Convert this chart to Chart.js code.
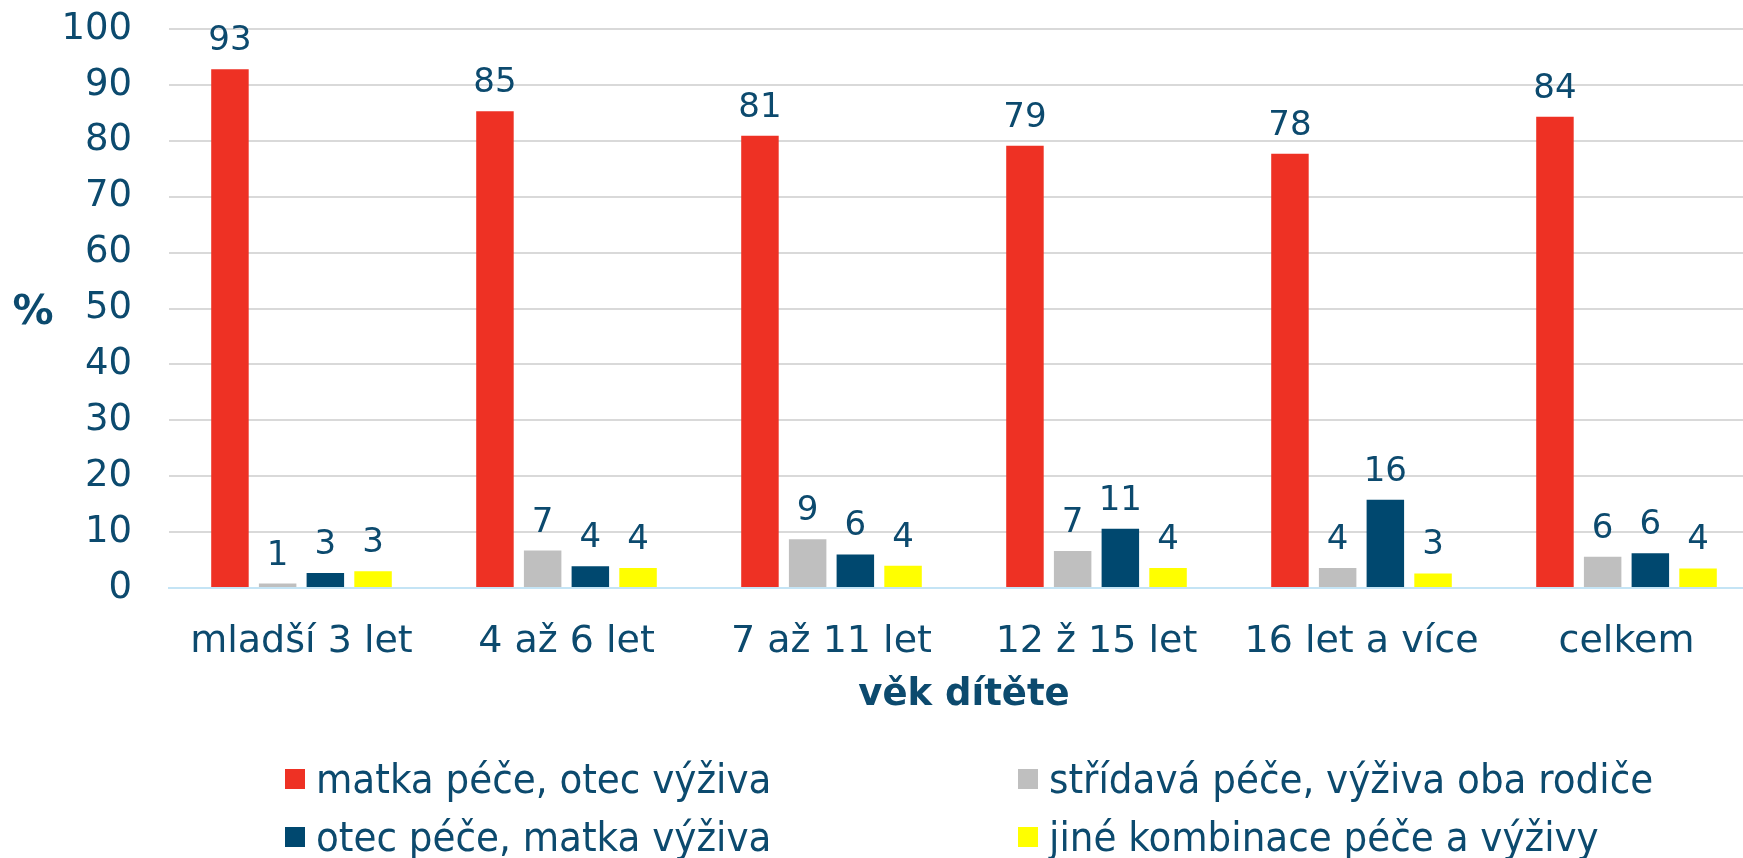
<!DOCTYPE html>
<html lang="cs">
<head>
<meta charset="utf-8">
<title>věk dítěte</title>
<script src="https://cdn.jsdelivr.net/npm/chart.js@4/dist/chart.umd.min.js"></script>
<style>
    body { margin: 0; background: #fff; overflow: hidden; }
    #wrap { position: relative; width: 1759px; height: 858px; }
    #legend {
        position: absolute; left: 285px; top: 759px;
        display: grid; grid-template-columns: 733px auto; row-gap: 18px;
        font-family: "DejaVu Sans Condensed", "DejaVu Sans", sans-serif;
        font-stretch: condensed; font-size: 41.5px; color: #0c4a6e;
    }
    #legend .item { display: flex; align-items: center; height: 40px; line-height: 1; white-space: nowrap; }
    #legend .box { width: 20px; height: 20px; margin-right: 11px; flex: none; }
</style>
</head>
<body>
<div id="wrap">
    <canvas id="chart" width="1759" height="858"></canvas>
    <div id="legend"></div>
</div>
<script>
const categories = ['mladší 3 let', '4 až 6 let', '7 až 11 let', '12 ž 15 let', '16 let a více', 'celkem'];
const seriesNames = ['matka péče, otec výživa', 'střídavá péče, výživa oba rodiče', 'otec péče, matka výživa', 'jiné kombinace péče a výživy'];
const matkaPece = [92.8, 85.3, 80.9, 79.1, 77.7, 84.3];
const stridavaPece = [0.8, 6.7, 8.7, 6.6, 3.6, 5.6];
const otecPece = [2.7, 3.9, 6.0, 10.6, 15.8, 6.2];
const jineKombinace = [3.0, 3.6, 4.0, 3.6, 2.6, 3.5];
const yTicks = [0, 10, 20, 30, 40, 50, 60, 70, 80, 90, 100];

const textColor = '#0c4a6e';
const colors = ['#ee3124', '#bfbfbf', '#00486f', '#ffff00'];

// draws the rounded values above the bars and the two axis titles
const labelsPlugin = {
    id: 'labels',
    afterDatasetsDraw(chart) {
        const ctx = chart.ctx;
        const area = chart.chartArea;
        ctx.save();
        ctx.fillStyle = textColor;
        ctx.textAlign = 'center';
        ctx.textBaseline = 'alphabetic';
        ctx.font = '34px "DejaVu Sans"';
        chart.data.datasets.forEach((ds, i) => {
            chart.getDatasetMeta(i).data.forEach((bar, j) => {
                ctx.fillText(Math.round(ds.data[j]), bar.x, bar.y - 19);
            });
        });
        ctx.font = 'bold 37px "DejaVu Sans"';
        ctx.fillText('věk dítěte', (area.left + area.right) / 2, area.bottom + 117);
        ctx.font = 'bold 41px "DejaVu Sans"';
        ctx.fillText('%', 33, (area.top + area.bottom) / 2 + 15);
        ctx.restore();
    }
};

const datasets = [matkaPece, stridavaPece, otecPece, jineKombinace].map((d, i) => ({
    label: seriesNames[i],
    data: d,
    backgroundColor: colors[i],
    borderWidth: 0,
    categoryPercentage: 0.72,
    barPercentage: 0.786
}));

let ctx = document.getElementById('chart').getContext('2d');
let chart = new Chart(ctx, {
    type: 'bar',
    data: { labels: categories, datasets: datasets },
    options: {
        responsive: false,
        animation: false,
        layout: { padding: 0 },
        plugins: { legend: { display: false }, tooltip: { enabled: false } },
        scales: {
            x: {
                offset: true,
                grid: { display: false, drawTicks: false },
                border: { display: true, color: '#c4e4f5', width: 2 },
                ticks: {
                    color: textColor, padding: 31, maxRotation: 0, autoSkip: false,
                    font: { family: 'DejaVu Sans', size: 38 }
                },
                afterFit(s) { s.height = 270; }
            },
            y: {
                min: 0, max: 100,
                afterBuildTicks(s) { s.ticks = yTicks.map(v => ({ value: v })); },
                grid: {
                    drawTicks: false, lineWidth: 2,
                    color: c => c.tick.value === 0 ? 'rgba(0,0,0,0)' : '#d9d9d9'
                },
                border: { display: false },
                ticks: {
                    color: textColor, padding: 37,
                    font: { family: 'DejaVu Sans', size: 37 }
                },
                afterFit(s) { s.width = 169; s.paddingTop = 29; }
            }
        }
    },
    plugins: [labelsPlugin]
});

// legend in two columns, built from the datasets
let legend = document.getElementById('legend');
[0, 1, 2, 3].forEach(i => {
    let item = document.createElement('div');
    item.className = 'item';
    let box = document.createElement('span');
    box.className = 'box';
    box.style.background = datasets[i].backgroundColor;
    let txt = document.createElement('span');
    txt.textContent = datasets[i].label;
    item.appendChild(box);
    item.appendChild(txt);
    legend.appendChild(item);
});
</script>
</body>
</html>
